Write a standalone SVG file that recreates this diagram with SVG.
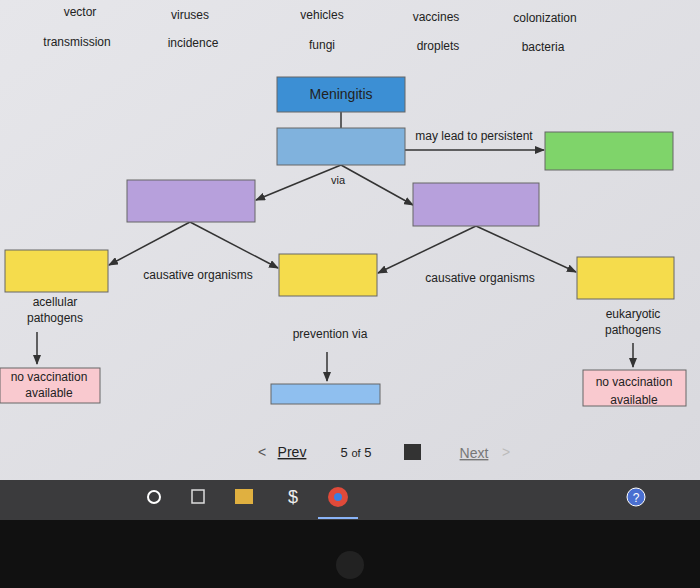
<svg xmlns="http://www.w3.org/2000/svg" width="700" height="588" viewBox="0 0 700 588">
<defs>
<marker id="ah" markerWidth="10" markerHeight="8" refX="9" refY="4" orient="auto" markerUnits="userSpaceOnUse"><path d="M0,0 L10,4 L0,8 z" fill="#333"/></marker>
<linearGradient id="bg" x1="0" y1="0" x2="1" y2="1"><stop offset="0" stop-color="#e6e6ea"/><stop offset="1" stop-color="#d9d9de"/></linearGradient>
</defs>
<style>
text{font-family:"Liberation Sans",Arial,sans-serif;font-size:12px;fill:#222;text-anchor:middle}
.b{stroke:#666;stroke-width:1}
.c{stroke:#333;stroke-width:1.5;fill:none}
</style>
<rect width="700" height="588" fill="#111"/>
<rect width="700" height="480" fill="url(#bg)"/>
<rect y="480" width="700" height="40" fill="#3b3b3d"/>
<g id="words">
<text x="80" y="16">vector</text><text x="190" y="19">viruses</text><text x="322" y="19">vehicles</text><text x="436" y="21">vaccines</text><text x="545" y="22">colonization</text>
<text x="77" y="46">transmission</text><text x="193" y="47">incidence</text><text x="322" y="49">fungi</text><text x="438" y="50">droplets</text><text x="543" y="51">bacteria</text>
</g>
<g id="connectors">
<line class="c" x1="341" y1="112" x2="341" y2="128"/>
<line class="c" x1="405" y1="150" x2="544" y2="150" marker-end="url(#ah)"/>
<line class="c" x1="341" y1="165" x2="256" y2="200" marker-end="url(#ah)"/>
<line class="c" x1="341" y1="165" x2="413" y2="205" marker-end="url(#ah)"/>
<line class="c" x1="190" y1="222" x2="109" y2="265" marker-end="url(#ah)"/>
<line class="c" x1="190" y1="222" x2="278" y2="268" marker-end="url(#ah)"/>
<line class="c" x1="476" y1="226" x2="378" y2="273" marker-end="url(#ah)"/>
<line class="c" x1="476" y1="226" x2="576" y2="272" marker-end="url(#ah)"/>
<line class="c" x1="37" y1="332" x2="37" y2="364" marker-end="url(#ah)"/>
<line class="c" x1="633" y1="343" x2="633" y2="367" marker-end="url(#ah)"/>
<line class="c" x1="327" y1="352" x2="327" y2="381" marker-end="url(#ah)"/>
<text x="474" y="140">may lead to persistent</text>
<text x="338" y="184" style="font-size:11px">via</text>
<text x="198" y="279">causative organisms</text>
<text x="480" y="282">causative organisms</text>
<text x="330" y="338">prevention via</text>
</g>
<g id="meningitis"><rect class="b" x="277" y="77" width="128" height="35" fill="#3c8fd4"/><text x="341" y="99" style="font-size:14px">Meningitis</text></g>
<g id="n1"><rect class="b" x="277" y="128" width="128" height="37" fill="#80b2dd"/></g>
<g id="green"><rect class="b" x="545" y="132" width="128" height="38" fill="#7fd46a"/></g>
<g id="purpleL"><rect class="b" x="127" y="180" width="128" height="42" fill="#b7a0dc"/></g>
<g id="purpleR"><rect class="b" x="413" y="183" width="126" height="43" fill="#b7a0dc"/></g>
<g id="yellowL"><rect class="b" x="5" y="250" width="103" height="42" fill="#f5dc4c"/></g>
<g id="yellowM"><rect class="b" x="279" y="254" width="98" height="42" fill="#f5dc4c"/></g>
<g id="yellowR"><rect class="b" x="577" y="257" width="97" height="42" fill="#f5dc4c"/></g>
<g id="acellular"><text x="55" y="306">acellular</text><text x="55" y="322">pathogens</text></g>
<g id="eukaryotic"><text x="633" y="318">eukaryotic</text><text x="633" y="334">pathogens</text></g>
<g id="pinkL"><rect class="b" x="0" y="368" width="100" height="35" fill="#f9c9cf"/><text x="49" y="381">no vaccination</text><text x="49" y="397">available</text></g>
<g id="pinkR"><rect class="b" x="583" y="370" width="103" height="36" fill="#f9c9cf"/><text x="634" y="386">no vaccination</text><text x="634" y="404">available</text></g>
<g id="blueB"><rect class="b" x="271" y="384" width="109" height="20" fill="#8fbfef"/></g>
<g id="nav">
<text x="262" y="457" style="font-size:14px;fill:#555">&lt;</text>
<text x="292" y="457" style="font-size:14px;text-decoration:underline">Prev</text>
<text x="356" y="457" style="font-size:13px">5 <tspan style="font-size:11px">of</tspan> 5</text>
<rect x="404" y="444" width="17" height="16" fill="#333"/>
<text x="474" y="458" style="font-size:14px;fill:#777;text-decoration:underline">Next</text>
<text x="506" y="457" style="font-size:14px;fill:#bbb">&gt;</text>
</g>
<g id="taskbar">
<circle cx="154" cy="497" r="6" fill="none" stroke="#fff" stroke-width="2"/>
<rect x="192" y="490" width="12" height="13" fill="none" stroke="#ddd" stroke-width="1.5"/>
<rect x="235" y="489" width="18" height="15" fill="#e0b040"/>
<text x="293" y="503" style="font-size:18px;fill:#eee">$</text>
<circle cx="338" cy="497" r="10" fill="#e04a3a"/><circle cx="338" cy="497" r="4" fill="#3a7fe0"/>
<line x1="318" y1="518" x2="358" y2="518" stroke="#8ab4f8" stroke-width="2"/>
<circle cx="636" cy="497" r="9" fill="#4a6fd0" stroke="#fff"/><text x="636" y="502" style="fill:#fff">?</text>
</g>
<circle cx="350" cy="565" r="14" fill="#222"/>
</svg>
